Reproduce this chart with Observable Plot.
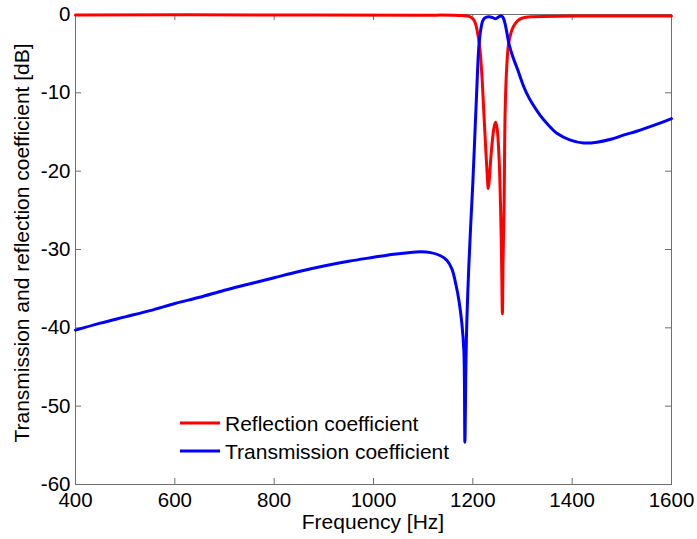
<!DOCTYPE html>
<html><head><meta charset="utf-8">
<script src="https://cdn.jsdelivr.net/npm/d3@7"></script>
<script src="https://cdn.jsdelivr.net/npm/@observablehq/plot@0.6"></script>
<style>
body{margin:0;background:#fff}
#chart svg{font-family:"Liberation Sans",Arial,sans-serif}
</style>
</head><body><div id="chart"></div>
<script>
// ---- data ----
const seriesNames = ["Reflection coefficient", "Transmission coefficient"];
const seriesColors = ["#ff0000", "#0000ff"];

const freqR = [400, 800, 1100, 1170, 1195, 1202, 1206, 1210, 1214, 1218, 1222, 1226, 1229, 1231, 1233, 1236, 1239.5, 1243, 1246, 1249, 1253, 1256, 1258, 1259.5, 1261, 1263, 1265, 1268, 1272, 1277, 1282, 1290, 1300, 1320, 1400, 1600];
const reflection = [-0.05, -0.05, -0.08, -0.12, -0.3, -0.7, -1.3, -2.5, -4.2, -7.5, -12.3, -17.2, -20.5, -22.2, -21.2, -18.5, -16, -14.3, -13.75, -14.6, -18.6, -25, -32, -38.2, -31, -24, -12.5, -7, -3.7, -2.3, -1.5, -0.8, -0.45, -0.28, -0.2, -0.18];

const freqT = [400, 450, 500, 550, 600, 650, 700, 750, 800, 850, 900, 950, 1000, 1041, 1070, 1095, 1115, 1135, 1148, 1158, 1166, 1172, 1178, 1182, 1184, 1186, 1188, 1192, 1196, 1200, 1204, 1208, 1212, 1216, 1220, 1224, 1232, 1240, 1246, 1252, 1257, 1261, 1265, 1269, 1273, 1280, 1290, 1300, 1308, 1320, 1336, 1352, 1370, 1395, 1423, 1450, 1480, 1503, 1530, 1571, 1600];
const transmission = [-40.3, -39.4, -38.6, -37.8, -36.9, -36.1, -35.2, -34.4, -33.6, -32.8, -32.1, -31.5, -31.0, -30.6, -30.4, -30.3, -30.4, -30.8, -31.4, -32.5, -34.5, -36.5, -39.5, -43.0, -54.6, -45, -39, -32, -26.5, -21.5, -15.5, -9.5, -4.2, -1.9, -0.8, -0.45, -0.3, -0.4, -0.55, -0.3, -0.15, -0.4, -1.2, -2.5, -3.8, -5.3, -7.0, -8.8, -10.0, -11.4, -12.9, -14.1, -15.2, -16.0, -16.4, -16.3, -15.9, -15.4, -14.9, -14.0, -13.3];

const xDomain = [400, 1600];
const yDomain = [-60, 0];
const xTicks = [400, 600, 800, 1000, 1200, 1400, 1600];
const yTicks = [-60, -50, -40, -30, -20, -10, 0];
const xLabel = "Frequency [Hz]";
const yLabel = "Transmission and reflection coefficient [dB]";

// ---- layout ----
const W = 697, H = 539;
const mL = 75, mR = 26, mT = 14, mB = 55;
const plotW = W - mL - mR, plotH = H - mT - mB;
const tickLen = 6;
const axisColor = "#6e6e6e";

const rows = [
  ...freqR.map((f, i) => ({f, v: reflection[i], s: seriesNames[0]})),
  ...freqT.map((f, i) => ({f, v: transmission[i], s: seriesNames[1]}))
];

const chart = Plot.plot({
  width: W, height: H,
  marginLeft: mL, marginRight: mR, marginTop: mT, marginBottom: mB,
  style: {fontFamily: "Liberation Sans, Arial, sans-serif", fontSize: "20.5px", background: "#fff"},
  x: {domain: xDomain},
  y: {domain: yDomain},
  color: {domain: seriesNames, range: seriesColors},
  marks: [
    Plot.frame({stroke: axisColor, strokeWidth: 1}),
    // inward ticks on all four sides
    Plot.ruleX(xTicks, {x: d => d, stroke: axisColor, insetTop: plotH - tickLen}),
    Plot.ruleX(xTicks, {x: d => d, stroke: axisColor, insetBottom: plotH - tickLen}),
    Plot.ruleY(yTicks, {y: d => d, stroke: axisColor, insetRight: plotW - tickLen}),
    Plot.ruleY(yTicks, {y: d => d, stroke: axisColor, insetLeft: plotW - tickLen}),
    Plot.axisX({ticks: xTicks, tickSize: 0, tickPadding: 8, tickFormat: d => String(d), label: null, fontSize: 20.5}),
    Plot.axisY({ticks: yTicks, tickSize: 0, tickPadding: 5, tickFormat: d => String(d), label: null, fontSize: 20.5}),
    Plot.line(rows, {x: "f", y: "v", z: "s", stroke: "s", strokeWidth: 3, curve: "catmull-rom"})
  ]
});

document.getElementById("chart").appendChild(chart);

const svg = d3.select(chart);
// axis labels
svg.append("text")
  .attr("x", mL + plotW / 2).attr("y", 529)
  .attr("text-anchor", "middle").attr("font-size", 21).attr("fill", "#000")
  .text(xLabel);
svg.append("text")
  .attr("transform", `translate(29,${243}) rotate(-90)`)
  .attr("text-anchor", "middle").attr("font-size", 21).attr("fill", "#000")
  .text(yLabel);

// legend (inside plot, lower left)
const lg = svg.append("g").attr("text-anchor", "start");
seriesNames.forEach((name, i) => {
  const cy = 423 + i * 28;
  lg.append("line").attr("x1", 180).attr("x2", 220).attr("y1", cy).attr("y2", cy)
    .attr("stroke", seriesColors[i]).attr("stroke-width", 3);
  lg.append("text").attr("x", 225).attr("y", cy + 7.5)
    .attr("text-anchor", "start")
    .attr("font-size", 21).attr("fill", "#000").text(name);
});
</script>
</body></html>
